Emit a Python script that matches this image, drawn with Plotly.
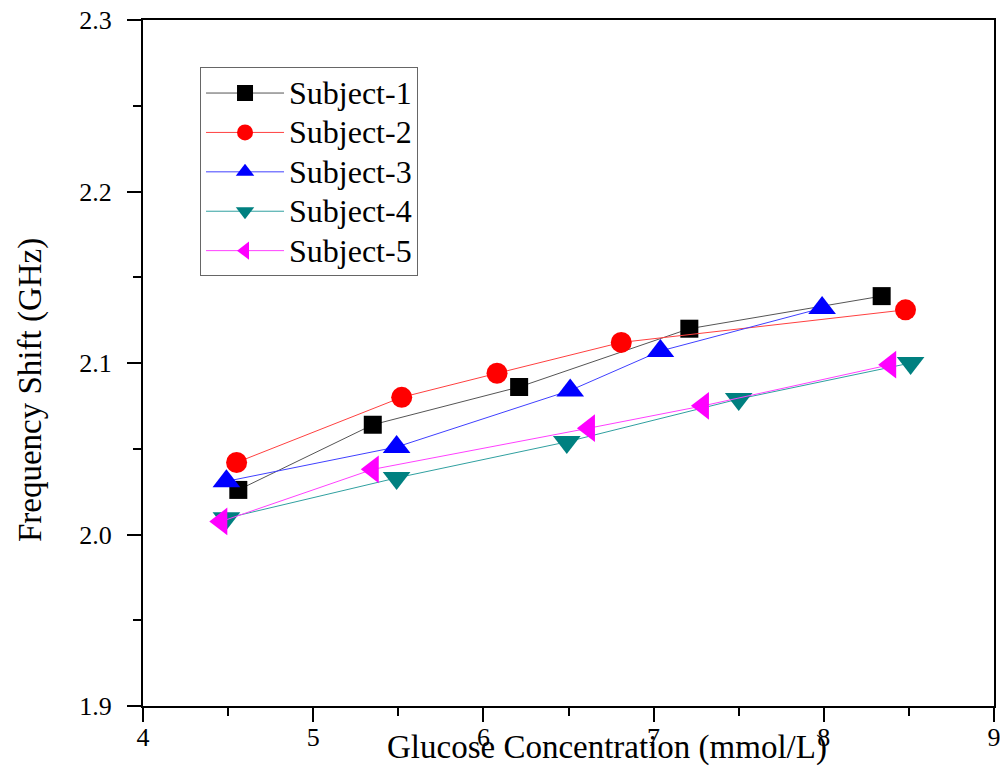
import plotly.graph_objects as go

names = ["Subject-1", "Subject-2", "Subject-3", "Subject-4", "Subject-5"]
x1 = [4.56, 5.35, 6.21, 7.21, 8.34]
y1 = [2.026, 2.064, 2.086, 2.120, 2.139]
x2 = [4.55, 5.52, 6.08, 6.81, 8.48]
y2 = [2.042, 2.080, 2.094, 2.112, 2.131]
x3 = [4.49, 5.49, 6.51, 7.04, 7.99]
y3 = [2.031, 2.051, 2.084, 2.107, 2.132]
x4 = [4.49, 5.49, 6.49, 7.50, 8.51]
y4 = [2.0095, 2.033, 2.054, 2.079, 2.100]
x5 = [4.46, 5.35, 6.62, 7.29, 8.39]
y5 = [2.0076, 2.038, 2.062, 2.075, 2.099]

x_ticks = [4, 5, 6, 7, 8, 9]
y_ticks = [1.9, 2.0, 2.1, 2.2, 2.3]
y_tick_labels = ["1.9", "2.0", "2.1", "2.2", "2.3"]

xs = [x1, x2, x3, x4, x5]
ys = [y1, y2, y3, y4, y5]
line_colors = ["#555555", "#ff4040", "#4040ff", "#30a0a0", "#ff40ff"]
marker_colors = ["#000000", "#ff0000", "#0000ff", "#008080", "#ff00ff"]
symbols = ["square", "circle", "triangle-up", "triangle-down", "triangle-left"]
sizes = [18, 21, 24, 24, 24]

font = "Liberation Serif, Times New Roman, serif"

fig = go.Figure()
for n, x, y, lc, mc, s, sz in zip(names, xs, ys, line_colors, marker_colors, symbols, sizes):
    fig.add_trace(go.Scatter(
        x=x, y=y, name='<span style="font-size:32px">' + n + '</span>', mode="lines+markers",
        line=dict(color=lc, width=1),
        marker=dict(symbol=s, size=sz, color=mc, line=dict(width=0)),
    ))

axis_common = dict(
    showline=True, linecolor="black", linewidth=2, mirror=True,
    ticks="outside", ticklen=14, tickwidth=2, tickcolor="black",
    showgrid=False, zeroline=False, ticklabeloverflow="allow", automargin=False,
    tickfont=dict(family=font, size=26, color="black"),
)

fig.update_xaxes(range=[4, 9], tickmode="array", tickvals=x_ticks, ticklabelstandoff=-7,
                 minor=dict(ticks="outside", ticklen=8, tickwidth=2, tickcolor="black",
                            tickmode="linear", tick0=4.5, dtick=1, showgrid=False),
                 **axis_common)
fig.update_yaxes(range=[1.9, 2.3], tickmode="array", tickvals=y_ticks, ticktext=y_tick_labels,
                 ticklabelstandoff=10,
                 minor=dict(ticks="outside", ticklen=8, tickwidth=2, tickcolor="black",
                            tickmode="linear", tick0=1.95, dtick=0.1, showgrid=False),
                 **axis_common)

fig.add_annotation(text="Glucose Concentration (mmol/L)", xref="paper", yref="paper",
                   x=0.545, y=-0.0612, xanchor="center", yanchor="middle", showarrow=False,
                   font=dict(family=font, size=33, color="black"))
fig.add_annotation(text="Frequency Shift (GHz)", xref="paper", yref="paper",
                   x=-0.1328, y=0.4606, xanchor="center", yanchor="middle", textangle=-90,
                   showarrow=False, font=dict(family=font, size=33, color="black"))

fig.update_layout(
    width=1000, height=774,
    margin=dict(l=143, r=6, t=20, b=68),
    paper_bgcolor="white", plot_bgcolor="white",
    showlegend=True,
    legend=dict(x=0.067, y=0.931, xanchor="left", yanchor="top",
                bordercolor="#666666", borderwidth=1, bgcolor="white",
                font=dict(family=font, size=28, color="black"),
                itemwidth=78, tracegroupgap=0),
)

fig.write_html("out.html",
               config={"displayModeBar": False},
               post_script="document.body.style.margin='0';document.body.style.overflow='hidden';"
                           "document.documentElement.style.overflow='hidden';")
